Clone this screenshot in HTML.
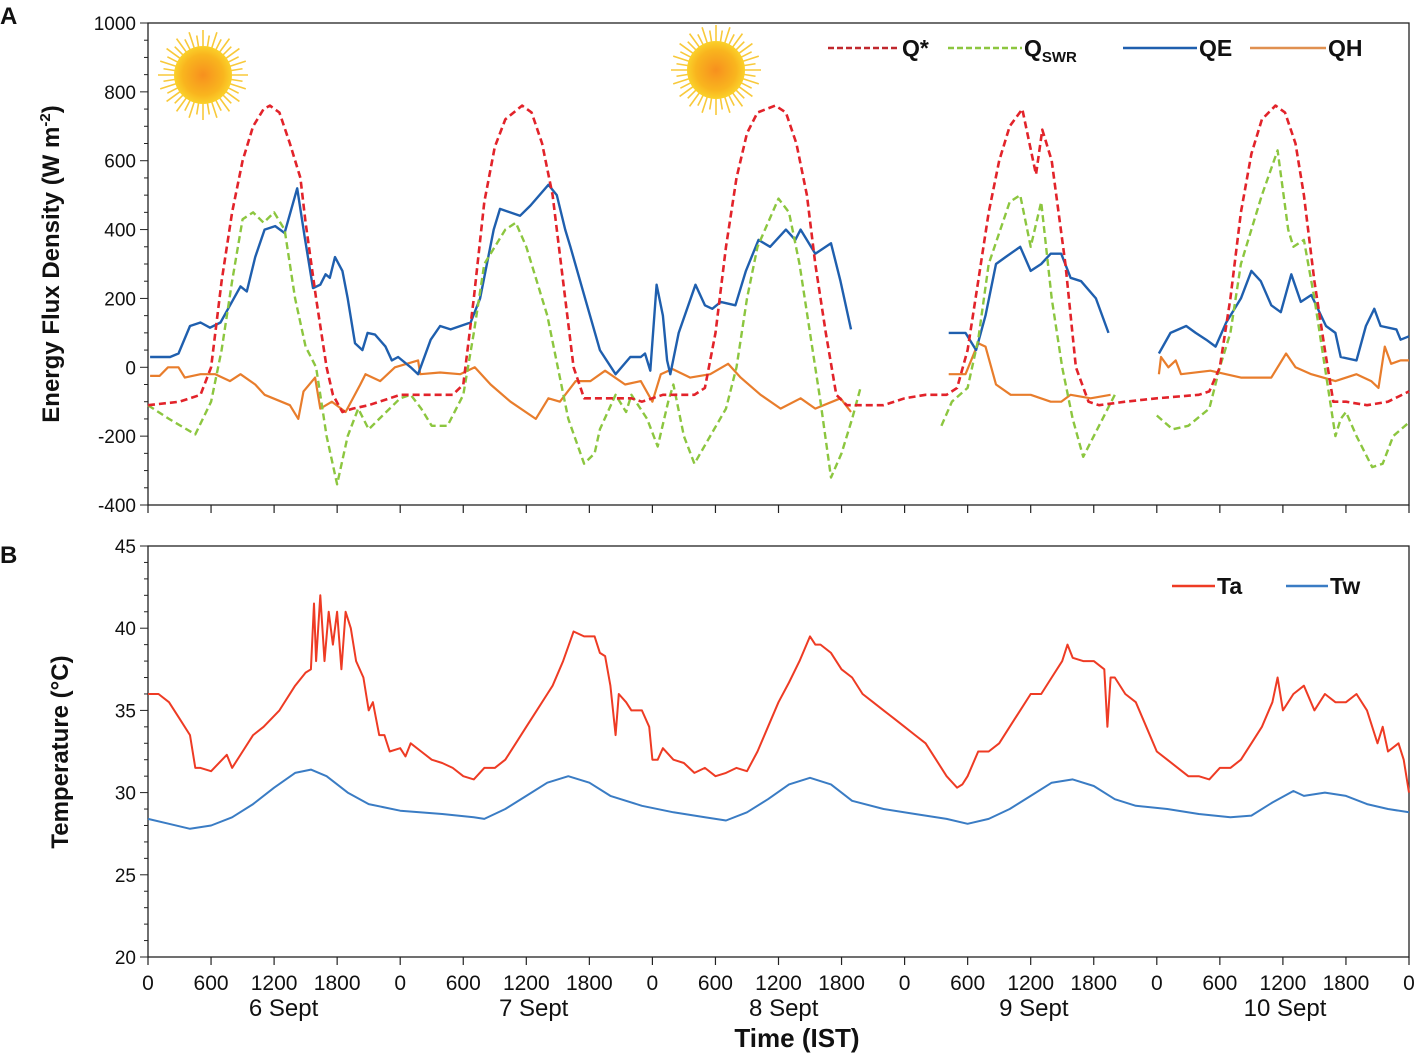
<!DOCTYPE html>
<html><head><meta charset="utf-8"><style>
body{margin:0;background:#fff;}
svg{display:block;font-family:"Liberation Sans",sans-serif;}
</style></head><body>
<svg id="chart" width="1417" height="1058" viewBox="0 0 1417 1058" xmlns="http://www.w3.org/2000/svg">
<defs>
<radialGradient id="sunG" cx="50%" cy="50%" r="50%"><stop offset="0%" stop-color="#f7901e"/><stop offset="70%" stop-color="#f9b51e"/><stop offset="100%" stop-color="#fbd12a"/></radialGradient>
</defs>
<g id="root"></g>
</svg>
<script>
// ---------- data (hours since 6 Sept 00:00) ----------
const qsT=[0,3,5,6,7,8,9,10,11,11.6,12.5,13.5,14.5,15,16,17,17.6,18.5,19.5,21,23,24,29,30,31,32,33,34,35.6,36.5,37.5,38.5,39.5,40.5,41.5,43,46,47,49,52,53,54,55,56,57,58,59.7,60.7,61.7,62.7,63.5,64.5,65.5,66.5,68,70,72,74,76,77,78,79,80,81,82,83.2,84.5,85.1,86,87.3,88.3,89.5,90.5,93,96,100,101,102,103,104,105,106,107.3,108.2,109.2,110,111,112,112.8,114,116,118,120];
const qsV=[-110,-100,-80,0,250,450,600,700,750,760,740,650,550,420,200,0,-80,-130,-120,-110,-90,-80,-80,-50,200,480,640,720,760,740,650,500,250,0,-90,-90,-90,-100,-80,-80,-60,100,350,550,680,740,760,740,650,500,300,100,-80,-110,-110,-110,-90,-80,-80,-60,50,250,450,600,700,750,560,690,600,300,0,-100,-110,-100,-90,-80,-70,0,200,450,620,720,760,740,650,500,250,50,-100,-100,-110,-100,-70];
const swT=[0,2,4.5,6,7,8,9,10,11,12,13,14,15,16,17,18,19,20,21,22,24,25,26,27,28.5,30,31,32,34,35,36,38,39,40,41.5,42.5,43,44.5,45.5,46,47.5,48.5,49.5,50,51,52,53.5,55,56,57,58,60,61,62,63,64,65,66,67,67.8,null,75.5,76.5,78,79,80,82,83,84,85,86,87,88,89,90,92,null,96,97.5,99,101,102,103,104,106,107.5,108.5,109,110,111,112,113,113.5,114,115,116.5,117.5,118.5,120];
const swV=[-110,-150,-195,-100,50,250,430,450,420,450,400,200,60,0,-200,-340,-200,-120,-180,-150,-90,-80,-120,-170,-170,-80,100,300,400,420,350,150,0,-150,-280,-250,-180,-80,-130,-80,-150,-230,-100,-50,-200,-280,-200,-120,0,200,350,490,450,300,100,-100,-320,-250,-150,-60,null,-170,-100,-60,80,300,480,500,350,480,200,0,-150,-260,-200,-80,null,-140,-180,-170,-120,0,100,300,500,630,400,350,370,200,0,-200,-150,-130,-200,-290,-280,-200,-160];
const qeT=[0.2,2.1,2.9,4,5,5.9,6.9,7.8,8.8,9.4,10.2,11.1,12.1,13,14.2,14.9,15.7,16.4,16.9,17.3,17.8,18.5,19,19.7,20.4,20.9,21.6,22.6,23.2,23.8,25,25.7,26.9,27.8,28.8,30.7,31.6,32.9,33.5,35.4,36.4,38.1,38.9,39.7,40.2,41.6,43,44.5,45.9,46.9,47.3,47.8,48.4,49,49.4,49.7,50.5,52.1,53,53.7,54.5,55.9,56.9,58.1,59.2,60.7,61.6,62.1,63.5,65,65.9,66.9,null,76.2,77.8,78.8,79.7,80.7,81.6,83,84,85,85.9,86.9,87.8,88.8,90.2,91.4,null,96.2,97.3,98.8,99.7,100.7,101.6,102.6,104,105,105.9,106.9,107.8,108.8,109.7,110.7,112.1,113,113.5,115,115.9,116.7,117.3,118.8,119.2,120];
const qeV=[30,30,40,120,130,115,130,180,235,220,320,400,410,390,520,380,230,240,270,260,320,280,200,70,50,100,95,60,20,30,0,-20,80,120,110,130,200,400,460,440,470,530,500,400,350,200,50,-20,30,30,40,-10,240,150,20,-20,100,240,180,170,190,180,280,370,350,400,370,400,330,360,250,110,null,100,100,50,150,300,320,350,280,300,330,330,260,250,200,100,null,40,100,120,100,80,60,130,200,280,250,180,160,270,190,210,120,100,30,20,120,170,120,110,80,90];
const qhT=[0.2,1.1,1.9,2.9,3.5,5,6.4,7.8,8.8,10.2,11.1,13.5,14.3,14.8,15.9,16.4,17.5,18.8,20.2,20.7,22.1,23.5,25.7,25.9,27.8,29.7,31.1,32.6,34.5,36.9,38.1,39.2,40.7,42.1,43.5,45.4,46.9,48,48.8,49.9,51.6,53.5,55.2,56.4,58.3,60.2,62.1,63.5,65.9,66.9,null,76.2,77.8,79,79.7,80.7,82.1,84,85.9,86.9,87.8,89.7,91.6,null,96.2,96.4,97.1,97.8,98.3,101.1,104,106.9,108.3,109.2,110.7,113,115,116.4,117.1,117.7,118.3,119.2,120];
const qhV=[-25,-25,0,0,-30,-20,-20,-40,-20,-50,-80,-110,-150,-70,-30,-120,-100,-130,-50,-20,-40,0,20,-20,-15,-20,0,-50,-100,-150,-90,-100,-40,-40,-10,-50,-40,-100,-20,-5,-30,-20,10,-30,-80,-120,-90,-120,-90,-130,null,-20,-20,70,60,-50,-80,-80,-100,-100,-80,-90,-80,null,-20,30,0,20,-20,-10,-30,-30,40,0,-20,-40,-20,-40,-60,60,10,20,20];
const taT=[0,1,2,3,4,4.5,5,6,7.5,8,9,10,11,12.5,14,15,15.5,15.8,16,16.4,16.8,17.2,17.6,18,18.4,18.8,19.3,19.8,20.5,21,21.4,22,22.5,23,24,24.5,25,26,27,28,29,30,31,32,33,34,35,36,37,38,38.5,39.5,40.5,41.5,42.5,43,43.5,44,44.5,44.8,45.5,46,47,47.7,48,48.5,49,50,51,52,53,54,55,56,57,58,59,60,61,62,63,63.5,64,65,66,67,68,69,70,71,72,73,74,75,76,77,77.5,78,79,80,81,82,83,84,85,86,87,87.5,88,89,90,91,91.3,91.6,92,93,94,95,96,97,98,99,100,101,102,103,104,105,106,107,107.5,108,109,110,111,112,113,114,115,116,117,117.5,118,119,119.5,120];
const taV=[36,36,35.5,34.5,33.5,31.5,31.5,31.3,32.3,31.5,32.5,33.5,34,35,36.5,37.3,37.5,41.5,38,42,38,41,39,41,37.5,41,40,38,37,35,35.5,33.5,33.5,32.5,32.7,32.2,33,32.5,32,31.8,31.5,31,30.8,31.5,31.5,32,33,34,35,36,36.5,38,39.8,39.5,39.5,38.5,38.3,36.5,33.5,36,35.5,35,35,34,32,32,32.7,32,31.8,31.2,31.5,31,31.2,31.5,31.3,32.5,34,35.5,36.7,38,39.5,39,39,38.5,37.5,37,36,35.5,35,34.5,34,33.5,33,32,31,30.3,30.5,31,32.5,32.5,33,34,35,36,36,37,38,39,38.2,38,38,37.5,34,37,37,36,35.5,34,32.5,32,31.5,31,31,30.8,31.5,31.5,32,33,34,35.5,37,35,36,36.5,35,36,35.5,35.5,36,35,33,34,32.5,33,32,30];
const twT=[0,2,4,6,8,10,12,14,15.5,17,19,21,24,28,31,32,34,36,38,40,42,44,47,50,53,55,57,59,61,63,65,67,70,73,76,78,80,82,84,86,88,90,92,94,97,100,103,105,107,109,110,112,114,116,118,120];
const twV=[28.4,28.1,27.8,28,28.5,29.3,30.3,31.2,31.4,31,30,29.3,28.9,28.7,28.5,28.4,29,29.8,30.6,31,30.6,29.8,29.2,28.8,28.5,28.3,28.8,29.6,30.5,30.9,30.5,29.5,29,28.7,28.4,28.1,28.4,29,29.8,30.6,30.8,30.4,29.6,29.2,29,28.7,28.5,28.6,29.4,30.1,29.8,30,29.8,29.3,29,28.8];
const fluxTicks=[1000,800,600,400,200,0,-200,-400];
const fluxTickLabels=["1000","800","600","400","200","0","-200","-400"];
const tempTicks=[45,40,35,30,25,20];
const tempTickLabels=["45","40","35","30","25","20"];
const hourTicks=[0,6,12,18,24,30,36,42,48,54,60,66,72,78,84,90,96,102,108,114,120];
const hourTickLabels=["0","600","1200","1800","0","600","1200","1800","0","600","1200","1800","0","600","1200","1800","0","600","1200","1800","0"];
const dayLabels=["6 Sept","7 Sept","8 Sept","9 Sept","10 Sept"];
const dayCenters=[12.9,36.7,60.5,84.3,108.2];

// ---------- layout ----------
const NS="http://www.w3.org/2000/svg";
const root=document.getElementById('root');
const X0=148,X1=1409;
const x=h=>X0+(X1-X0)*h/120;
const yA=v=>23+(1000-v)*(482/1400);
const yB=v=>546+(45-v)*(411/25);
function mk(tag,attrs,parent){const e=document.createElementNS(NS,tag);for(const k in attrs)e.setAttribute(k,attrs[k]);(parent||root).appendChild(e);return e;}
function pathD(T,V,fy){let d="",pen=false;for(let i=0;i<T.length;i++){if(T[i]===null||V[i]===null){pen=false;continue;}d+=(pen?"L":"M")+x(T[i]).toFixed(1)+" "+fy(V[i]).toFixed(1)+" ";pen=true;}return d;}

const fa=mk('rect',{x:X0,y:23,width:X1-X0,height:482,fill:'none',stroke:'#222','stroke-width':1.3});

const fb=mk('rect',{x:X0,y:546,width:X1-X0,height:411,fill:'none',stroke:'#222','stroke-width':1.3});


for(let v=-400;v<=1000;v+=50){const t=mk('line',{x1:X0-(v%200===0?8:4),x2:X0,y1:yA(v),y2:yA(v),stroke:'#222','stroke-width':1});}
fluxTicks.forEach((v,i)=>{const t=mk('text',{x:X0-12,y:yA(v)+7,'text-anchor':'end','font-size':19,fill:'#111'});t.textContent=fluxTickLabels[i];});
for(let v=20;v<=45;v+=1){const t=mk('line',{x1:X0-(v%5===0?8:4),x2:X0,y1:yB(v),y2:yB(v),stroke:'#222','stroke-width':1});}
tempTicks.forEach((v,i)=>{const t=mk('text',{x:X0-12,y:yB(v)+7,'text-anchor':'end','font-size':19,fill:'#111'});t.textContent=tempTickLabels[i];});
hourTicks.forEach((h,i)=>{
 const a=mk('line',{x1:x(h),x2:x(h),y1:505,y2:513,stroke:'#222','stroke-width':1.2});
 const b=mk('line',{x1:x(h),x2:x(h),y1:957,y2:965,stroke:'#222','stroke-width':1.2});
 const t=mk('text',{x:x(h),y:990,'text-anchor':'middle','font-size':21,fill:'#111'});t.textContent=hourTickLabels[i];
});
dayLabels.forEach((d,i)=>{const t=mk('text',{x:x(dayCenters[i]),y:1016,'text-anchor':'middle','font-size':24,fill:'#111'});t.textContent=d;});
let tt=mk('text',{x:797,y:1047,'text-anchor':'middle','font-size':26,'font-weight':'bold',fill:'#111'});tt.textContent='Time (IST)';
tt=mk('text',{x:0,y:0,'text-anchor':'middle','font-size':24,'font-weight':'bold',fill:'#111',transform:'translate(59,264) rotate(-90)'});tt.innerHTML='Energy Flux Density (W m<tspan font-size="15" dy="-9">-2</tspan><tspan dy="9">)</tspan>';
tt=mk('text',{x:0,y:0,'text-anchor':'middle','font-size':24,'font-weight':'bold',fill:'#111',transform:'translate(68,752) rotate(-90)'});tt.textContent='Temperature (°C)';
tt=mk('text',{x:0,y:24,'font-size':24,'font-weight':'bold',fill:'#111'});tt.textContent='A';
tt=mk('text',{x:0,y:563,'font-size':24,'font-weight':'bold',fill:'#111'});tt.textContent='B';

[[203,75],[716,70]].forEach(c=>{const g=mk('g',{});
 for(let k=0;k<40;k++){const a=k*Math.PI/20;const r2=(k%2?40:45);mk('line',{x1:c[0]+28*Math.cos(a),y1:c[1]+28*Math.sin(a),x2:c[0]+r2*Math.cos(a),y2:c[1]+r2*Math.sin(a),stroke:'#f8c93a','stroke-width':1.6},g);}
 mk('circle',{cx:c[0],cy:c[1],r:29,fill:'url(#sunG)'},g);});

function series(T,V,fy,color,dash,name,w){const p=mk('path',{d:pathD(T,V,fy),fill:'none',stroke:color,'stroke-width':w||2.4,'stroke-linejoin':'round'});if(dash)p.setAttribute('stroke-dasharray',dash);}
series(qhT,qhV,yA,'#e87d2c',null,'qh-line',2.2);
series(qeT,qeV,yA,'#1f5fae',null,'qe-line',2.4);
series(swT,swV,yA,'#8cc63f','7 4','qswr-line',2.4);
series(qsT,qsV,yA,'#e2232a','7 4','qstar-line',2.6);
series(twT,twV,yB,'#3a7cc4',null,'tw-line',2);
series(taT,taV,yB,'#ee3b24',null,'ta-line',2);

function leg(x1,x2,y,color,dash,label,name,sub){const g=mk('g',{});
 const l=mk('line',{x1:x1,x2:x2,y1:y,y2:y,stroke:color,'stroke-width':2.6},g);if(dash)l.setAttribute('stroke-dasharray',dash);
 const t=mk('text',{x:x2+2,y:y+8,'font-size':23,'font-weight':'bold',fill:'#111'},g);t.textContent=label;
 if(sub){const s=mk('tspan',{'font-size':15,dy:6},t);s.textContent=sub;}}
leg(828,900,48,'#c0282d','6 3','Q*','legend-qstar');
leg(948,1022,48,'#8cc63f','6 3','Q','legend-qswr','SWR');
leg(1123,1197,48,'#1f5fae',null,'QE','legend-qe');
leg(1250,1326,48,'#e09050',null,'QH','legend-qh');
leg(1172,1215,586,'#ee3b24',null,'Ta','legend-ta');
leg(1286,1328,586,'#3a7cc4',null,'Tw','legend-tw');
</script>
</body></html>
